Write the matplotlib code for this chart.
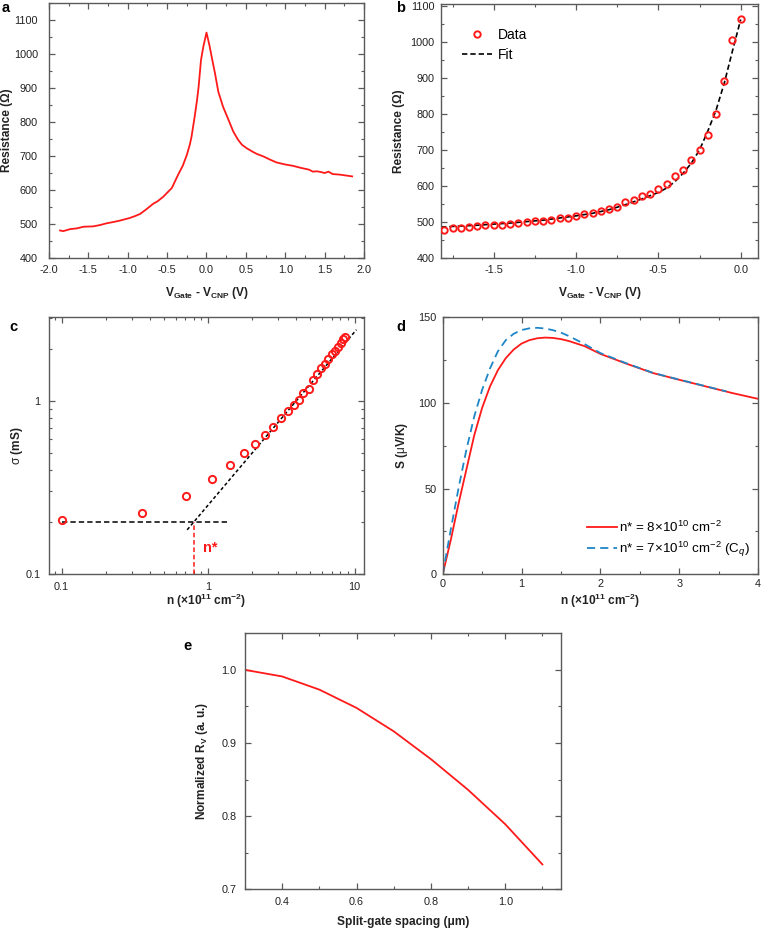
import matplotlib
matplotlib.use('Agg')
import matplotlib.pyplot as plt
from matplotlib.ticker import MultipleLocator, NullFormatter, LogLocator, FixedLocator, FixedFormatter
from matplotlib.lines import Line2D

plt.rcParams['font.family'] = ['Liberation Sans', 'DejaVu Sans']
plt.rcParams['mathtext.fontset'] = 'custom'
plt.rcParams['mathtext.rm'] = 'Liberation Sans'
plt.rcParams['mathtext.it'] = 'Liberation Sans:italic'
plt.rcParams['mathtext.bf'] = 'Liberation Sans:bold'

# ---------------- data ----------------
# panel a: resistance vs gate voltage
a_v = [-1.86, -1.82, -1.73, -1.65, -1.56, -1.44, -1.35, -1.27, -1.18, -1.10,
       -0.97, -0.90, -0.84, -0.76, -0.68, -0.62, -0.55, -0.44, -0.36, -0.30,
       -0.25, -0.21, -0.19, -0.15, -0.12, -0.10, -0.07, -0.04, 0.00, 0.036,
       0.074, 0.108, 0.15, 0.21, 0.28, 0.34, 0.40, 0.45, 0.51, 0.59,
       0.64, 0.72, 0.81, 0.89, 1.00, 1.10, 1.20, 1.30, 1.35, 1.40,
       1.45, 1.50, 1.55, 1.60, 1.70, 1.85]
a_r = [481, 479, 485, 487, 492, 493, 497, 502, 506, 510,
       518, 524, 530, 544, 559, 567, 580, 606, 645, 672,
       703, 735, 757, 816, 865, 904, 982, 1022, 1063, 1027,
       982, 943, 889, 845, 806, 772, 748, 733, 723, 712,
       706, 699, 689, 681, 675, 671, 665, 660, 654, 655,
       653, 650, 654, 647, 645, 640]

# panel b: data points and fit
b_v = [-1.80, -1.75, -1.70, -1.65, -1.60, -1.55, -1.50, -1.45, -1.40, -1.35,
       -1.30, -1.25, -1.20, -1.15, -1.10, -1.05, -1.00, -0.95, -0.90, -0.85,
       -0.80, -0.75, -0.70, -0.65, -0.60, -0.55, -0.50, -0.45, -0.40, -0.35,
       -0.30, -0.25, -0.20, -0.15, -0.10, -0.05, 0.00]
b_r = [479, 482, 484, 486, 488, 491, 492, 492, 494, 497,
       499, 502, 503, 506, 510, 512, 517, 522, 525, 530,
       536, 542, 555, 561, 571, 579, 592, 605, 627, 645,
       671, 700, 742, 801, 892, 1006, 1064]
fit_v = [-1.82, -1.6, -1.4, -1.2, -1.0, -0.9, -0.8, -0.7, -0.6, -0.5,
         -0.45, -0.4, -0.35, -0.3, -0.25, -0.2, -0.15, -0.1, -0.05, 0.0]
fit_r = [486, 491, 497, 505, 517, 524, 534, 548, 564, 582,
         594, 612, 635, 663, 700, 752, 810, 885, 975, 1062]

# panel c: conductivity vs density (log-log)
c_n = [0.10, 0.356, 0.708, 1.06, 1.41, 1.76, 2.10, 2.44, 2.79, 3.16,
       3.51, 3.83, 4.17, 4.48, 4.85, 5.22, 5.53, 5.89, 6.28, 6.61,
       6.96, 7.34, 7.74, 8.02, 8.33, 8.67]
c_sigma = [0.204, 0.225, 0.284, 0.355, 0.425, 0.499, 0.562, 0.636, 0.711, 0.801,
           0.868, 0.952, 1.017, 1.107, 1.173, 1.32, 1.43, 1.545, 1.63, 1.75,
           1.86, 1.95, 2.06, 2.16, 2.27, 2.35]
c_fit_n = [0.72, 10.3]
c_fit_sigma = [0.18, 2.575]
c_sat_n = [0.1, 1.35]
c_sat_sigma = [0.2, 0.2]
c_nstar_n = [0.8, 0.8]
c_nstar_sigma = [0.1, 0.2]

# panel d: thermopower vs density
d_n_red = [0.0, 0.1, 0.2, 0.3, 0.4, 0.5, 0.6, 0.7, 0.8, 0.9,
           1.0, 1.1, 1.2, 1.3, 1.4, 1.5, 1.6, 1.8, 2.0, 2.33,
           2.67, 3.0, 3.34, 3.68, 4.0]
d_s_red = [0.0, 19.5, 41.0, 61.0, 81.0, 97.0, 109.5, 119.0, 126.0, 131.0,
           134.5, 136.5, 137.6, 138.0, 137.8, 137.1, 136.0, 133.0, 128.5, 122.8,
           117.3, 113.4, 109.5, 105.6, 102.3]
d_n_blue = [0.0, 0.1, 0.2, 0.3, 0.4, 0.5, 0.6, 0.7, 0.8, 0.9,
            1.0, 1.1, 1.2, 1.3, 1.4, 1.5, 1.6, 1.8, 2.0, 2.33,
            2.67, 3.0, 3.34, 3.6]
d_s_blue = [0.0, 25.5, 50.0, 72.5, 92.0, 107.5, 120.0, 130.0, 136.5, 140.2,
            142.4, 143.4, 143.7, 143.3, 142.3, 140.9, 138.9, 134.2, 129.0, 123.0,
            117.4, 113.5, 109.6, 106.6]

# panel e: normalized R_V vs split-gate spacing
e_x = [0.3, 0.4, 0.5, 0.6, 0.7, 0.8, 0.9, 1.0, 1.1]
e_y = [1.0, 0.991, 0.973, 0.948, 0.916, 0.878, 0.836, 0.789, 0.734]

# ---------------- figure ----------------
W, H = 761, 931
fig = plt.figure(figsize=(W / 100, H / 100), dpi=100)


def add_ax(x0, y0, x1, y1):
    return fig.add_axes([x0 / W, 1 - y1 / H, (x1 - x0) / W, (y1 - y0) / H])


RED = '#ff1a1a'
SPINE = '#5a5a5a'
TICKFS = 7.8
LABFS = 8.6


def style(ax, xpad=5.0, ypad=5.0):
    for s in ax.spines.values():
        s.set_color(SPINE)
        s.set_linewidth(1.0)
    ax.tick_params(which='both', direction='in', top=True, right=True,
                   color=SPINE, labelcolor='#222222', labelsize=TICKFS)
    ax.tick_params(which='major', length=4, width=0.9)
    ax.tick_params(which='minor', length=2.2, width=0.8)
    ax.tick_params(axis='x', which='major', pad=xpad)
    ax.tick_params(axis='y', which='major', pad=ypad)


def labels(ax, xl, yl, xfrac, yfrac):
    ax.set_xlabel(xl, fontsize=LABFS, fontweight='bold', color='#222222')
    ax.set_ylabel(yl, fontsize=LABFS, fontweight='bold', color='#222222')
    ax.xaxis.set_label_coords(0.5, xfrac)
    ax.yaxis.set_label_coords(yfrac, 0.5)


vlabel = r'V$_{\mathbf{Gate}}$ - V$_{\mathbf{CNP}}$ (V)'
nlabel = r'n (×10$^{\mathbf{11}}$ cm$^{\mathbf{-2}}$)'

# ---- panel a ----
axa = add_ax(49, 3, 364, 258)
axa.plot(a_v, a_r, color=RED, lw=1.3)
axa.set_xlim(-2.0, 2.0)
axa.set_ylim(400, 1150)
axa.xaxis.set_major_locator(MultipleLocator(0.5))
axa.xaxis.set_minor_locator(MultipleLocator(0.25))
axa.yaxis.set_major_locator(MultipleLocator(100))
axa.yaxis.set_minor_locator(MultipleLocator(50))
axa.xaxis.set_major_formatter(matplotlib.ticker.FormatStrFormatter('%.1f'))
style(axa, xpad=5.0, ypad=8.0)
labels(axa, vlabel, 'Resistance (Ω)', (258 - 285) / 255, (13 - 49) / 315)

# ---- panel b ----
axb = add_ax(441, 4, 758, 258)
axb.plot(fit_v, fit_r, color='black', lw=1.2, ls=(0, (3.2, 1.8)), label='Fit', zorder=2)
axb.plot(b_v, b_r, ls='none', marker='o', ms=4.6, mfc='none', mec=RED, mew=1.4,
         label='Data', zorder=3)
axb.set_xlim(-1.82, 0.105)
axb.set_ylim(400, 1105)
axb.xaxis.set_major_locator(MultipleLocator(0.5))
axb.xaxis.set_minor_locator(MultipleLocator(0.25))
axb.yaxis.set_major_locator(MultipleLocator(100))
axb.yaxis.set_minor_locator(MultipleLocator(50))
axb.xaxis.set_major_formatter(matplotlib.ticker.FormatStrFormatter('%.1f'))
style(axb, xpad=5.0, ypad=4.5)
labels(axb, vlabel, 'Resistance (Ω)', (258 - 285) / 254, (405 - 441) / 317)
hdl = [Line2D([], [], ls='none', marker='o', ms=4.6, mfc='none', mec=RED, mew=1.4),
       Line2D([], [], color='black', lw=1.2, ls=(0, (3.2, 1.8)))]
axb.legend(hdl, ['Data', 'Fit'], loc='upper left', bbox_to_anchor=(0.065, 0.905),
           frameon=False, fontsize=10, handlelength=2.2, handletextpad=0.4,
           labelspacing=0.4, borderpad=0, borderaxespad=0)

# ---- panel c ----
axc = add_ax(49, 317, 364, 574)
axc.plot(c_sat_n, c_sat_sigma, color='black', lw=1.1, ls=(0, (3.5, 2)))
axc.plot(c_fit_n, c_fit_sigma, color='black', lw=1.1, ls=(0, (2.2, 1.6)))
axc.plot(c_nstar_n, c_nstar_sigma, color=RED, lw=1.1, ls=(0, (3, 1.8)))
axc.plot(c_n, c_sigma, ls='none', marker='o', ms=5.2, mfc='none', mec=RED, mew=1.4)
axc.set_xscale('log')
axc.set_yscale('log')
axc.set_xlim(0.082, 11.6)
axc.set_ylim(0.1, 3.05)
axc.xaxis.set_major_locator(FixedLocator([0.1, 1, 10]))
axc.xaxis.set_major_formatter(FixedFormatter(['0.1', '1', '10']))
axc.yaxis.set_major_locator(FixedLocator([0.1, 1]))
axc.yaxis.set_major_formatter(FixedFormatter(['0.1', '1']))
axc.xaxis.set_minor_locator(LogLocator(base=10, subs=range(2, 10)))
axc.yaxis.set_minor_locator(LogLocator(base=10, subs=range(2, 10)))
axc.xaxis.set_minor_formatter(NullFormatter())
axc.yaxis.set_minor_formatter(NullFormatter())
style(axc, xpad=5.5, ypad=6.0)
labels(axc, nlabel, r'$\mathrm{\sigma}$ (mS)', (574 - 592) / 257, (25 - 49) / 315)
axc.text(0.92, 0.142, 'n*', color=RED, fontsize=10.5, fontweight='bold',
         ha='left', va='center')

# ---- panel d ----
axd = add_ax(442.7, 317, 758, 574.3)
axd.plot(d_n_red, d_s_red, color=RED, lw=1.3, label=r'n* = 8×10$^{10}$ cm$^{-2}$')
axd.plot(d_n_blue, d_s_blue, color='#1f86c6', lw=1.3, ls=(0, (4.5, 2.8)),
         label=r'n* = 7×10$^{10}$ cm$^{-2}$ (C$_{q}$)')
axd.set_xlim(0, 4)
axd.set_ylim(0, 150)
axd.xaxis.set_major_locator(MultipleLocator(1))
axd.xaxis.set_minor_locator(MultipleLocator(0.5))
axd.yaxis.set_major_locator(MultipleLocator(50))
axd.yaxis.set_minor_locator(MultipleLocator(25))
style(axd, xpad=3.5, ypad=4.5)
labels(axd, nlabel, r'S ($\mathrm{\mu}$V/K)', (574.3 - 592) / 257.3, (410 - 442.7) / 315.3)
axd.legend(loc='lower right', bbox_to_anchor=(0.975, 0.06), frameon=False,
           fontsize=9.6, handlelength=2.3, handletextpad=0.15,
           labelspacing=0.35, borderpad=0, borderaxespad=0)

# ---- panel e ----
axe = add_ax(245, 633.3, 561, 889.3)
axe.plot(e_x, e_y, color=RED, lw=1.3)
axe.set_xlim(0.3, 1.15)
axe.set_ylim(0.7, 1.05)
axe.xaxis.set_major_locator(FixedLocator([0.4, 0.6, 0.8, 1.0]))
axe.xaxis.set_minor_locator(FixedLocator([0.3, 0.5, 0.7, 0.9, 1.1]))
axe.yaxis.set_major_locator(FixedLocator([0.7, 0.8, 0.9, 1.0]))
axe.yaxis.set_minor_locator(FixedLocator([0.75, 0.85, 0.95]))
axe.xaxis.set_major_formatter(matplotlib.ticker.FormatStrFormatter('%.1f'))
axe.yaxis.set_major_formatter(matplotlib.ticker.FormatStrFormatter('%.1f'))
style(axe, xpad=5.5, ypad=6.0)
labels(axe, 'Split-gate spacing (μm)', r'Normalized R$_{\mathbf{V}}$ (a. u.)',
       (889.3 - 916) / 256, (210 - 245) / 316)

# panel letters
for txt, x, y in [('a', 2, 8), ('b', 396, 8), ('c', 9, 327), ('d', 396, 327), ('e', 183, 646)]:
    fig.text(x / W, 1 - y / H, txt, fontsize=10.5, fontweight='bold',
             ha='left', va='center', color='black')

fig.savefig('out.png', dpi=100)
